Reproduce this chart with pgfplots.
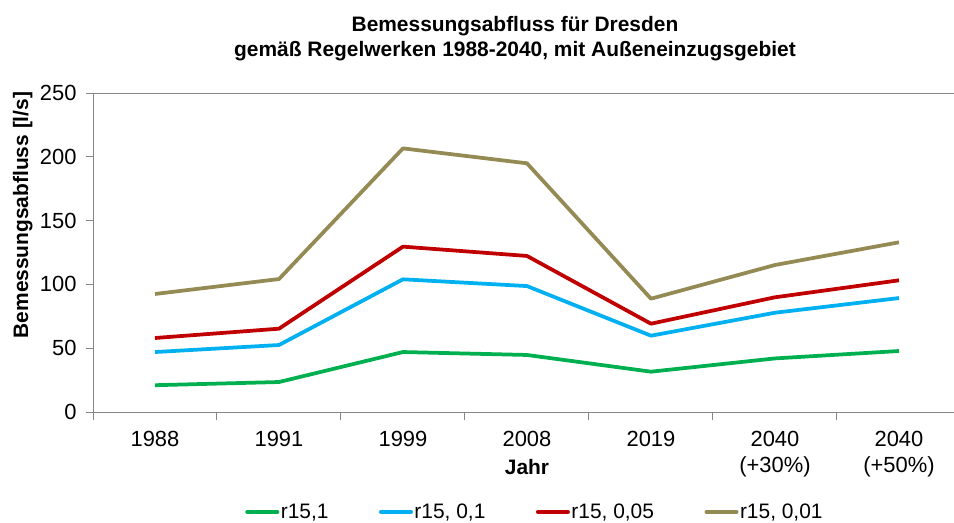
\documentclass[border=0pt]{standalone}
\usepackage{fontspec}
\setmainfont{Liberation Sans}
\usepackage{pgfplots}
\pgfplotsset{compat=1.18}
\definecolor{cgreen}{HTML}{00B050}
\definecolor{cblue}{HTML}{00B0F0}
\definecolor{cred}{HTML}{C00000}
\definecolor{colive}{HTML}{948A54}
\definecolor{axgray}{RGB}{134,134,134}
\begin{document}
\begin{tikzpicture}[x=1bp,y=1bp]
\useasboundingbox (0,0) rectangle (954,-523);
\begin{axis}[
  at={(93bp,-412bp)}, anchor=south west,
  scale only axis, width=861bp, height=319bp,
  xmin=-0.5, xmax=6.444, ymin=0, ymax=250,
  separate axis lines,
  axis x line=box, axis y line=left,
  axis line style={-, axgray, line width=1bp},
  xtick pos=left,
  tick align=outside,
  xtick={0,...,6},
  xticklabels={1988,1991,1999,2008,2019,{2040\\(+30\%)},{2040\\(+50\%)}},
  xticklabel style={align=center, font=\fontsize{22}{26}\selectfont, yshift=-9bp},
  yticklabel style={font=\fontsize{22}{26}\selectfont, xshift=-6bp},
  /pgf/number format/assume math mode=true,
  major x tick style={draw=none},
  minor xtick={-0.5,0.5,...,5.5},
  minor tick length=8bp,
  major tick length=7bp,
  ytick={0,50,...,250},
  tick style={axgray, line width=1bp},
  legend columns=4,
  legend style={draw=none, at={(0.513,-0.313)}, anchor=center,
    font=\fontsize{21}{22}\selectfont,
    nodes={inner xsep=1.5bp},
    /tikz/every even column/.append style={column sep=49bp}},
  legend image code/.code={\draw[#1, line width=4bp, line cap=round] (2bp,0bp) -- (32bp,0bp);},
  every axis plot/.append style={line width=3.75bp, line join=round},
]
\addplot[cgreen] coordinates {(0,21)(1,23.5)(2,47)(3,44.7)(4,31.6)(5,42)(6,47.8)};
\addlegendentry{r15,1}
\addplot[cblue] coordinates {(0,47)(1,52.5)(2,104)(3,98.7)(4,59.8)(5,77.8)(6,89.3)};
\addlegendentry{r15, 0,1}
\addplot[cred] coordinates {(0,58)(1,65.3)(2,129.6)(3,122.3)(4,69.2)(5,89.9)(6,103.2)};
\addlegendentry{r15, 0,05}
\addplot[colive] coordinates {(0,92.5)(1,104.2)(2,206.6)(3,194.9)(4,88.8)(5,115.2)(6,133)};
\addlegendentry{r15, 0,01}
\end{axis}
\node[anchor=base, font=\bfseries\fontsize{21}{24}\selectfont] at (515,-31.7) {Bemessungsabfluss für Dresden};
\node[anchor=base, font=\bfseries\fontsize{21}{24}\selectfont] at (515,-56.5) {gemäß Regelwerken 1988-2040, mit Außeneinzugsgebiet};
\node[anchor=base, rotate=90, font=\bfseries\fontsize{21}{25}\selectfont] at (28,-215) {Bemessungsabfluss [l/s]};
\node[anchor=base, font=\bfseries\fontsize{21}{25}\selectfont] at (527,-474) {Jahr};
\end{tikzpicture}
\end{document}
